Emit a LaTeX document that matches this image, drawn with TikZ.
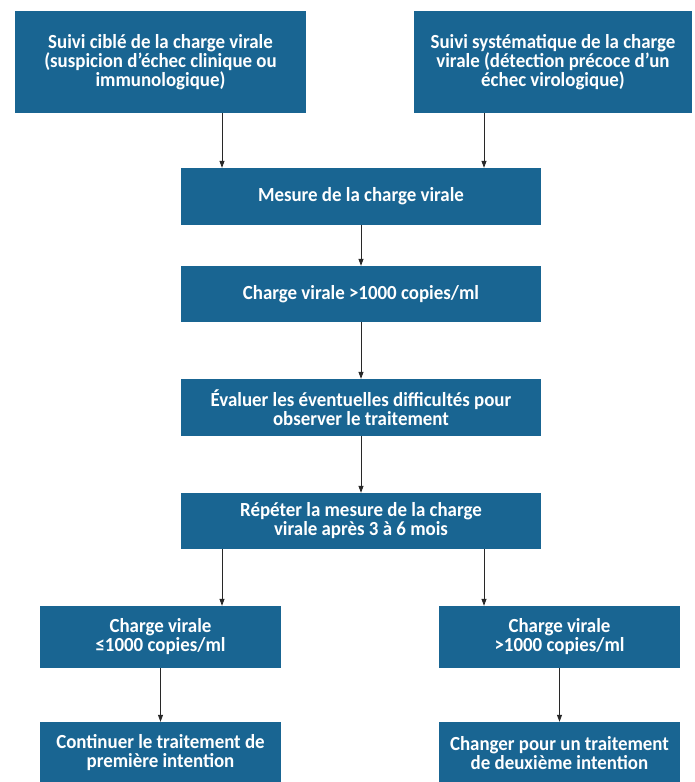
\documentclass[tikz,border=0pt]{standalone}
\usepackage{fontspec}
\setmainfont{Carlito}[FakeStretch=0.945]
\usetikzlibrary{arrows.meta,calc}
\definecolor{boxblue}{RGB}{25,101,146}
\definecolor{linegray}{RGB}{40,40,40}
\tikzset{
  box/.style={fill=boxblue,draw=none,text=white,align=center,inner sep=2pt,
    font=\fontsize{20}{19}\selectfont\bfseries,anchor=center},
  arr/.style={draw=linegray,line width=0.8pt,-{Triangle[length=7pt,width=5pt]}}
}
\begin{document}
\begin{tikzpicture}[x=1pt,y=-1pt]
\useasboundingbox[fill=white] (0,0) rectangle (694,782);
\begin{scope}
\clip (0,0) rectangle (694,782);
\node[box,minimum width=291pt,minimum height=102pt] (b1) at (160.5,62) {Suivi ciblé de la charge virale\\(suspicion d’échec clinique ou\\immunologique)};
\node[box,minimum width=278pt,minimum height=102pt] (b2) at (553,62) {Suivi systématique de la charge\\virale (détection précoce d’un\\échec virologique)};
\node[box,minimum width=360pt,minimum height=57pt] (m1) at (361,196.5) {Mesure de la charge virale};
\node[box,minimum width=360pt,minimum height=56pt] (m2) at (361,294) {Charge virale >1000 copies/ml};
\node[box,minimum width=360pt,minimum height=57pt] (m3) at (361,407.5) {Évaluer les éventuelles difficultés pour\\observer le traitement};
\node[box,minimum width=360pt,minimum height=56pt] (m4) at (361,521) {Répéter la mesure de la charge\\virale après 3 à 6 mois};
\node[box,minimum width=241pt,minimum height=62pt] (l1) at (160.5,637) {Charge virale\\≤1000 copies/ml};
\node[box,minimum width=241pt,minimum height=62pt] (r1) at (559.5,637) {Charge virale\\>1000 copies/ml};
\node[box,minimum width=241pt,minimum height=62pt] (l2) at (160.5,753) {Continuer le traitement de\\première intention};
\node[box,minimum width=241pt,minimum height=62pt] (r2) at (559.5,753) {Changer pour un traitement\\de deuxième intention};
\end{scope}
\draw[arr] ([xshift=61.5pt]b1.south) -- ([xshift=61.5pt]b1.south |- m1.north);
\draw[arr] ([xshift=-69pt]b2.south) -- ([xshift=-69pt]b2.south |- m1.north);
\draw[arr] (m1.south) -- (m2.north);
\draw[arr] (m2.south) -- (m3.north);
\draw[arr] (m3.south) -- (m4.north);
\draw[arr] ([xshift=-139pt]m4.south) -- ([xshift=-139pt]m4.south |- l1.north);
\draw[arr] ([xshift=123pt]m4.south) -- ([xshift=123pt]m4.south |- r1.north);
\draw[arr] (l1.south) -- (l2.north);
\draw[arr] (r1.south) -- (r2.north);
\end{tikzpicture}
\end{document}
